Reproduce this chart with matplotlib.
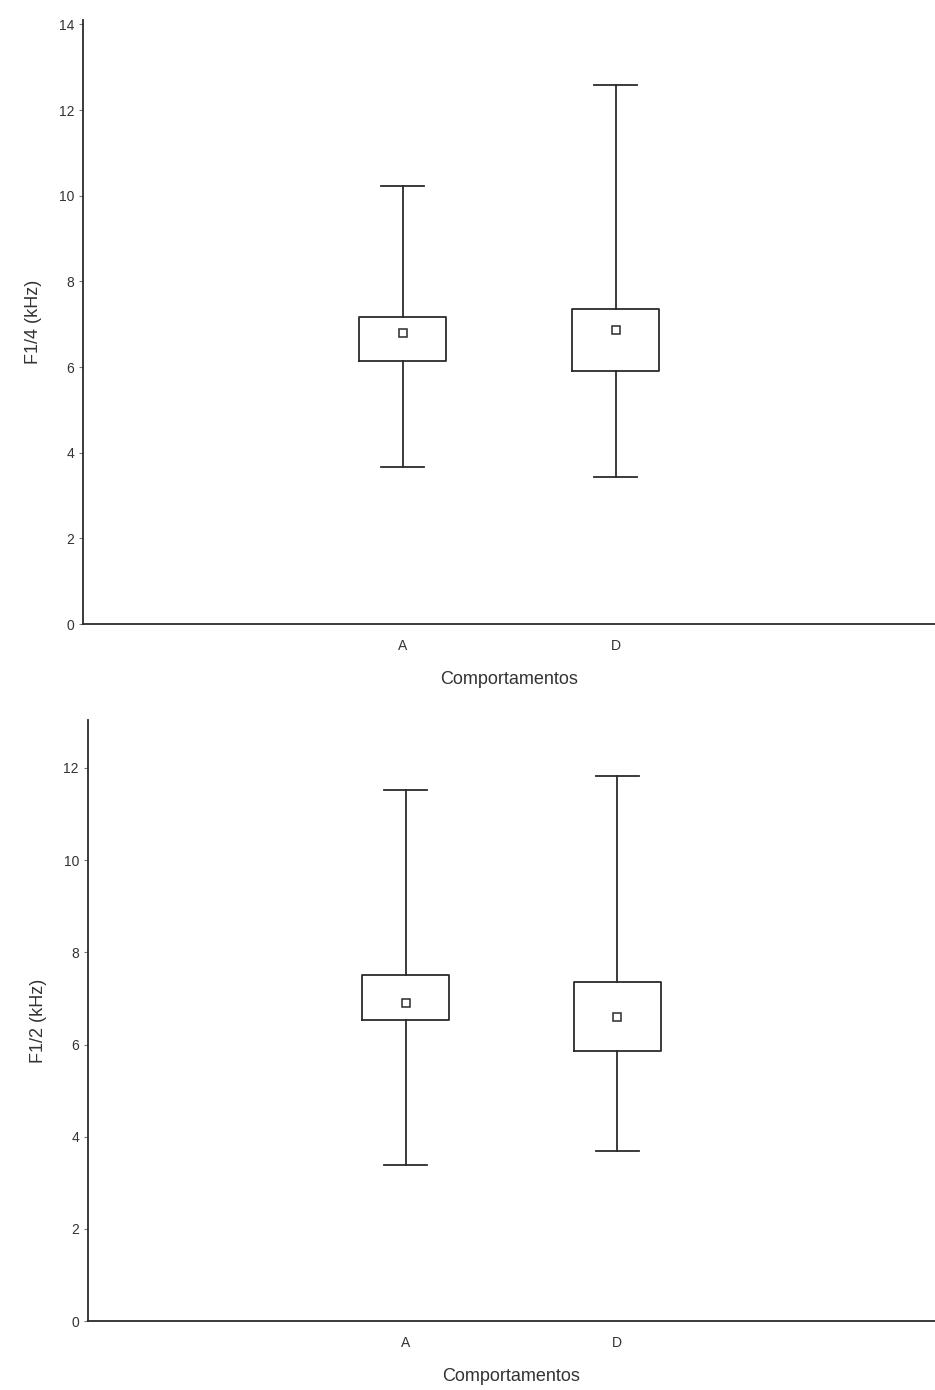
import matplotlib
matplotlib.use('Agg')
import matplotlib.pyplot as plt

plt.rcParams['font.family'] = ['Liberation Sans', 'DejaVu Sans']

categories = ['A', 'D']
xlabel = 'Comportamentos'

# top panel: F1/4
f14_mean = [6.80, 6.87]
f14_box_low = [6.14, 5.91]
f14_box_high = [7.17, 7.36]
f14_min = [3.67, 3.43]
f14_max = [10.23, 12.59]

# bottom panel: F1/2
f12_mean = [6.90, 6.59]
f12_box_low = [6.53, 5.86]
f12_box_high = [7.51, 7.35]
f12_min = [3.38, 3.69]
f12_max = [11.52, 11.82]

line_col = '#2b2b2b'
text_col = '#333333'


def panel(rect, mean, lo, hi, wmin, wmax, ylabel, ymax, yticks):
    ax = fig.add_axes(rect)
    stats = []
    for i in range(len(categories)):
        stats.append({'med': None, 'q1': lo[i], 'q3': hi[i],
                      'whislo': wmin[i], 'whishi': wmax[i],
                      'mean': mean[i], 'fliers': [], 'label': categories[i]})
    ax.bxp(stats, positions=[1, 2], widths=0.41, showmeans=True,
           showfliers=False, capwidths=0.2,
           boxprops=dict(color=line_col, linewidth=1.3),
           whiskerprops=dict(color=line_col, linewidth=1.3),
           capprops=dict(color=line_col, linewidth=1.3),
           medianprops=dict(linewidth=0),
           meanprops=dict(marker='s', markersize=6, markerfacecolor='white',
                          markeredgecolor=line_col, markeredgewidth=1.1))
    ax.set_xlim(-0.5, 3.5)
    ax.set_ylim(0, ymax)
    ax.set_yticks(yticks)
    ax.set_xticks([1, 2])
    ax.set_xticklabels(categories)
    for s in ['top', 'right']:
        ax.spines[s].set_visible(False)
    for s in ['left', 'bottom']:
        ax.spines[s].set_color(line_col)
        ax.spines[s].set_linewidth(1.3)
    ax.tick_params(axis='both', labelsize=10, colors='#777777',
                   labelcolor=text_col, length=3, width=0.8)
    ax.tick_params(axis='x', length=0, pad=11)
    ax.set_xlabel(xlabel, fontsize=13, color=text_col, labelpad=13)
    ax.set_ylabel(ylabel, fontsize=13, color=text_col, labelpad=12)
    return ax


fig = plt.figure(figsize=(9.35, 13.9), dpi=100)

panel([0.0888, 0.551, 0.9112, 0.4345], f14_mean, f14_box_low, f14_box_high,
      f14_min, f14_max, 'F1/4 (kHz)', 14.1, range(0, 15, 2))
panel([0.0941, 0.0496, 0.9059, 0.4324], f12_mean, f12_box_low, f12_box_high,
      f12_min, f12_max, 'F1/2 (kHz)', 13.04, range(0, 13, 2))

fig.savefig('out.png', dpi=100, facecolor='white')
